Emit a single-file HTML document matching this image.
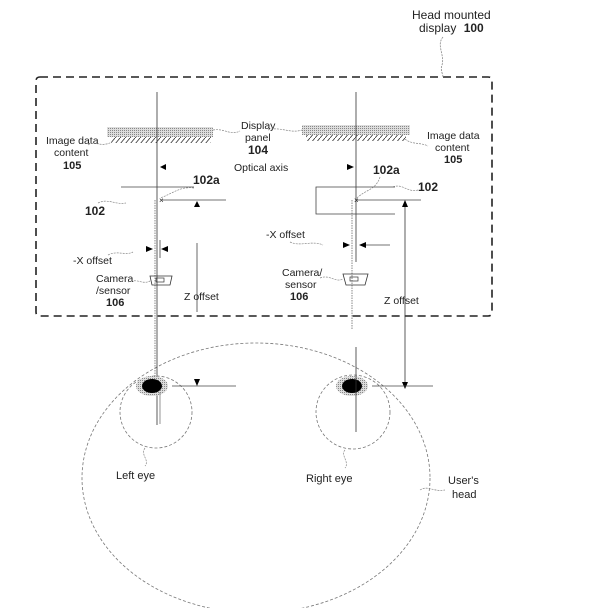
<!DOCTYPE html>
<html><head><meta charset="utf-8"><style>
html,body{margin:0;padding:0;background:#fff;}
svg{display:block;font-family:"Liberation Sans",Arial,sans-serif;}
</style></head><body>
<svg width="613" height="608" viewBox="0 0 613 608" xmlns="http://www.w3.org/2000/svg">
<defs>
<pattern id="dots" width="2" height="2" patternUnits="userSpaceOnUse"><rect width="2" height="2" fill="#ddd"/><rect width="1" height="1" fill="#888"/></pattern>
<pattern id="hatch" width="5" height="6" patternUnits="userSpaceOnUse"><line x1="0" y1="6" x2="5" y2="0" stroke="#333" stroke-width="0.8"/></pattern>
</defs>
<!-- HMD box -->
<path d="M40 77 H488 Q492 77 492 81 V312 Q492 316 488 316 H40 Q36 316 36 312 V81 Q36 77 40 77 Z" fill="none" stroke="#222" stroke-width="1.6" stroke-dasharray="8,5"/>
<text x="412" y="19" font-size="12" fill="#222">Head mounted</text>
<text x="419" y="32" font-size="12" fill="#222">display <tspan font-weight="bold" dx="4">100</tspan></text>
<path d="M443 37 C436 45 445 55 442 65 C440 70 443 74 443 77" fill="none" stroke="#888" stroke-width="0.8" stroke-dasharray="2,1"/>
<!-- head -->
<ellipse cx="256" cy="478" rx="174" ry="135" fill="none" stroke="#777" stroke-width="0.8" stroke-dasharray="3,2"/>
<text x="448" y="484" font-size="11" fill="#222">User's</text>
<text x="452" y="498" font-size="11" fill="#222">head</text>
<path d="M420 490 C428 485 432 492 445 490" fill="none" stroke="#888" stroke-width="0.7" stroke-dasharray="2,1"/>
<!-- panels -->
<rect x="107" y="127" width="106" height="10" fill="url(#dots)"/>
<rect x="111" y="137" width="100" height="6" fill="url(#hatch)"/>
<rect x="302" y="125" width="108" height="10" fill="url(#dots)"/>
<rect x="306" y="135" width="100" height="6" fill="url(#hatch)"/>
<text x="241" y="129" font-size="10.5" fill="#222">Display</text>
<text x="245" y="141" font-size="10.5" fill="#222">panel</text>
<text x="248" y="154" font-size="12" font-weight="bold" fill="#222">104</text>
<path d="M213 130 C225 128 230 136 240 131 M268 130 C280 126 290 134 302 130" fill="none" stroke="#888" stroke-width="0.7" stroke-dasharray="2,1"/>
<text x="234" y="171" font-size="10.5" fill="#222">Optical axis</text>
<text x="46" y="144" font-size="10.5" fill="#222">Image data</text>
<text x="54" y="156" font-size="10.5" fill="#222">content</text>
<text x="63" y="169" font-size="11" font-weight="bold" fill="#222">105</text>
<path d="M88 145 C95 140 100 148 112 142" fill="none" stroke="#888" stroke-width="0.7" stroke-dasharray="2,1"/>
<text x="427" y="139" font-size="10.5" fill="#222">Image data</text>
<text x="435" y="151" font-size="10.5" fill="#222">content</text>
<text x="444" y="163" font-size="11" font-weight="bold" fill="#222">105</text>
<path d="M405 139 C412 145 420 142 428 146" fill="none" stroke="#888" stroke-width="0.7" stroke-dasharray="2,1"/>
<!-- left optics -->
<line x1="157" y1="92" x2="157" y2="425" stroke="#333" stroke-width="0.8"/>
<line x1="155" y1="200" x2="155" y2="385" stroke="#555" stroke-width="0.7" stroke-dasharray="1.5,1"/>
<polygon points="160,167 166,164 166,170" fill="#000"/>
<line x1="121" y1="187" x2="194" y2="187" stroke="#444" stroke-width="0.8"/>
<text x="193" y="184" font-size="12" font-weight="bold" fill="#222">102a</text>
<path d="M194 188 C180 186 172 194 160 198" fill="none" stroke="#888" stroke-width="0.7" stroke-dasharray="2,1"/>
<text x="159" y="203" font-size="8" fill="#222">×</text>
<line x1="162" y1="200" x2="226" y2="200" stroke="#444" stroke-width="0.8"/>
<polygon points="197,201 194,207 200,207" fill="#000"/>
<text x="85" y="215" font-size="12" font-weight="bold" fill="#222">102</text>
<path d="M98 203 C108 198 115 205 126 203" fill="none" stroke="#888" stroke-width="0.7" stroke-dasharray="2,1"/>
<line x1="160" y1="240" x2="160" y2="258" stroke="#444" stroke-width="0.8"/>
<polygon points="153,249 146,246 146,252" fill="#000"/>
<polygon points="161,249 168,246 168,252" fill="#000"/>
<text x="73" y="264" font-size="10.5" fill="#222">-X offset</text>
<path d="M108 255 C118 250 125 256 133 252" fill="none" stroke="#888" stroke-width="0.7" stroke-dasharray="2,1"/>
<path d="M150 276 L172 276 L170 285 L152 285 Z" fill="none" stroke="#333" stroke-width="0.8"/>
<rect x="156" y="278" width="8" height="4" fill="none" stroke="#333" stroke-width="0.7"/>
<text x="96" y="282" font-size="10.5" fill="#222">Camera</text>
<text x="96" y="294" font-size="10.5" fill="#222">/sensor</text>
<text x="106" y="306" font-size="11" font-weight="bold" fill="#222">106</text>
<path d="M128 282 C138 278 142 285 150 281" fill="none" stroke="#888" stroke-width="0.7" stroke-dasharray="2,1"/>
<line x1="197" y1="243" x2="197" y2="312" stroke="#444" stroke-width="0.8"/>
<text x="184" y="300" font-size="10.5" fill="#222">Z offset</text>
<!-- right optics -->
<line x1="356" y1="92" x2="356" y2="262" stroke="#333" stroke-width="0.8"/>
<line x1="352" y1="200" x2="352" y2="330" stroke="#555" stroke-width="0.7" stroke-dasharray="1.5,1"/>
<polygon points="354,167 347,164 347,170" fill="#000"/>
<text x="373" y="174" font-size="12" font-weight="bold" fill="#222">102a</text>
<path d="M380 177 C376 190 365 190 357 198" fill="none" stroke="#888" stroke-width="0.7" stroke-dasharray="2,1"/>
<text x="418" y="191" font-size="12" font-weight="bold" fill="#222">102</text>
<path d="M393 187 C402 183 408 193 418 190" fill="none" stroke="#888" stroke-width="0.7" stroke-dasharray="2,1"/>
<path d="M395 187 H316 V214 H395" fill="none" stroke="#444" stroke-width="0.8"/>
<text x="354" y="203" font-size="8" fill="#222">×</text>
<line x1="357" y1="200" x2="421" y2="200" stroke="#444" stroke-width="0.8"/>
<line x1="405" y1="205" x2="405" y2="383" stroke="#333" stroke-width="0.8"/>
<polygon points="405,200 402,207 408,207" fill="#000"/>
<polygon points="405,389 402,382 408,382" fill="#000"/>
<polygon points="350,245 343,242 343,248" fill="#000"/>
<polygon points="359,245 366,242 366,248" fill="#000"/>
<line x1="366" y1="245" x2="390" y2="245" stroke="#444" stroke-width="0.8"/>
<text x="266" y="238" font-size="10.5" fill="#222">-X offset</text>
<path d="M290 242 C300 247 312 240 323 245" fill="none" stroke="#888" stroke-width="0.7" stroke-dasharray="2,1"/>
<path d="M343 274 L368 274 L365 285 L346 285 Z" fill="none" stroke="#333" stroke-width="0.8"/>
<rect x="350" y="277" width="8" height="4" fill="none" stroke="#333" stroke-width="0.7"/>
<text x="282" y="276" font-size="10.5" fill="#222">Camera/</text>
<text x="285" y="288" font-size="10.5" fill="#222">sensor</text>
<text x="290" y="300" font-size="11" font-weight="bold" fill="#222">106</text>
<path d="M320 278 C330 274 335 283 343 279" fill="none" stroke="#888" stroke-width="0.7" stroke-dasharray="2,1"/>
<text x="384" y="304" font-size="10.5" fill="#222">Z offset</text>
<!-- eyes -->
<circle cx="156" cy="412" r="36" fill="none" stroke="#777" stroke-width="0.8" stroke-dasharray="3,2"/>
<ellipse cx="152" cy="386" rx="16" ry="10" fill="url(#dots)"/>
<ellipse cx="152" cy="386" rx="10" ry="7" fill="#000"/>
<line x1="160" y1="392" x2="160" y2="424" stroke="#888" stroke-width="0.9"/>
<line x1="172" y1="386" x2="236" y2="386" stroke="#444" stroke-width="0.8"/>
<polygon points="197,386 194,379 200,379" fill="#000"/>
<text x="116" y="479" font-size="11" fill="#222">Left eye</text>
<path d="M145 448 C140 455 150 460 145 466" fill="none" stroke="#888" stroke-width="0.7" stroke-dasharray="2,1"/>
<circle cx="353" cy="412" r="37" fill="none" stroke="#777" stroke-width="0.8" stroke-dasharray="3,2"/>
<ellipse cx="352" cy="386" rx="16" ry="10" fill="url(#dots)"/>
<ellipse cx="352" cy="386" rx="10" ry="7" fill="#000"/>
<line x1="356" y1="347" x2="356" y2="432" stroke="#333" stroke-width="0.8"/>
<line x1="372" y1="386" x2="433" y2="386" stroke="#444" stroke-width="0.8"/>
<text x="306" y="482" font-size="11" fill="#222">Right eye</text>
<path d="M345 450 C340 455 350 462 345 468" fill="none" stroke="#888" stroke-width="0.7" stroke-dasharray="2,1"/>
</svg>
</body></html>
